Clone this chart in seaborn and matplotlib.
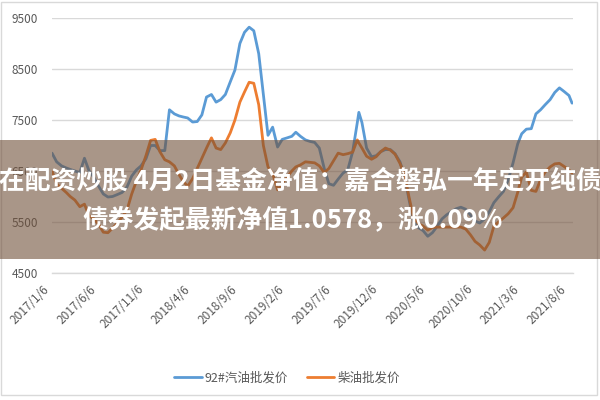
import numpy as np
import pandas as pd
import matplotlib
matplotlib.use("Agg")
import matplotlib.pyplot as plt
import seaborn as sns
from matplotlib.patches import Rectangle
from matplotlib.lines import Line2D

dates = [
    "2017-01-06", "2017-01-21", "2017-02-06", "2017-02-21", "2017-03-06", "2017-03-21",
    "2017-04-06", "2017-04-21", "2017-05-06", "2017-05-21", "2017-06-06", "2017-06-21",
    "2017-07-06", "2017-07-21", "2017-08-06", "2017-08-21", "2017-09-06", "2017-09-21",
    "2017-10-06", "2017-10-21", "2017-11-06", "2017-11-21", "2017-12-06", "2017-12-21",
    "2018-01-06", "2018-01-21", "2018-02-06", "2018-02-21", "2018-03-06", "2018-03-21",
    "2018-04-06", "2018-04-21", "2018-05-06", "2018-05-21", "2018-06-06", "2018-06-21",
    "2018-07-06", "2018-07-21", "2018-08-06", "2018-08-21", "2018-09-06", "2018-09-21",
    "2018-10-06", "2018-10-21", "2018-11-06", "2018-11-21", "2018-12-06", "2018-12-21",
    "2019-01-06", "2019-01-21", "2019-02-06", "2019-02-21", "2019-03-06", "2019-03-21",
    "2019-04-06", "2019-04-21", "2019-05-06", "2019-05-21", "2019-06-06", "2019-06-21",
    "2019-07-06", "2019-07-21", "2019-08-06", "2019-08-21", "2019-09-06", "2019-09-21",
    "2019-09-26", "2019-10-06", "2019-10-21", "2019-11-06", "2019-11-21", "2019-12-06",
    "2019-12-21", "2020-01-06", "2020-01-21", "2020-02-06", "2020-02-21", "2020-03-06",
    "2020-03-21", "2020-04-06", "2020-04-21", "2020-05-06", "2020-05-21", "2020-06-06",
    "2020-06-21", "2020-07-06", "2020-07-21", "2020-08-06", "2020-08-21", "2020-09-06",
    "2020-09-21", "2020-10-06", "2020-10-21", "2020-11-06", "2020-11-21", "2020-12-06",
    "2020-12-21", "2021-01-06", "2021-01-21", "2021-02-06", "2021-02-21", "2021-03-06",
    "2021-03-21", "2021-04-06", "2021-04-21", "2021-05-06", "2021-05-21", "2021-06-06",
    "2021-06-21", "2021-07-06", "2021-07-21", "2021-08-06", "2021-08-16",
]

gasoline_92 = [
    6850, 6680, 6600, 6560, 6530, 6500,
    6470, 6750, 6500, 6380, 6200, 6050,
    5990, 6000, 6040, 6080, 6190, 6400,
    6520, 6600, 6740, 7000, 7000, 6900,
    6900, 7700, 7620, 7580, 7560, 7540,
    7460, 7470, 7600, 7950, 8000, 7850,
    7900, 8000, 8250, 8480, 9000, 9220,
    9320, 9250, 8800, 8000, 7200, 7360,
    6970, 7120, 7150, 7180, 7260, 7180,
    7110, 7080, 7060, 6950, 6550, 6250,
    6220, 6340, 6460, 6520, 6880, 7450,
    7650, 7450, 6950, 6780, 6800, 6880,
    6920, 6920, 6840, 6680, 6400, 5950,
    5520, 5390, 5330, 5220, 5290, 5420,
    5560, 5640, 5700, 5760, 5790, 5750,
    5640, 5520, 5480, 5560, 5700, 5880,
    5990, 6100, 6320, 6660, 7030, 7230,
    7320, 7330, 7620, 7700, 7800, 7900,
    8040, 8130, 8060, 7980, 7830,
]

diesel = [
    6500, 6250, 6160, 6080, 6000, 5930,
    5800, 5850, 5620, 5570, 5450, 5300,
    5290, 5380, 5480, 5600, 5740, 6050,
    6300, 6520, 6800, 7100, 7120, 6880,
    6720, 6680, 6600, 6430, 6300, 6200,
    6350, 6550, 6750, 6950, 7150, 6950,
    6920, 7050, 7250, 7500, 7850, 8050,
    8240, 8220, 7800, 7000, 6580, 6450,
    6130, 6260, 6380, 6500, 6580, 6620,
    6680, 6670, 6660, 6600, 6470, 6550,
    6700, 6850, 6820, 6840, 6870, 7110,
    7050, 6950, 6790, 6730, 6780, 6880,
    6950, 6910, 6830, 6650, 6420, 6000,
    5580, 5470, 5420, 5340, 5390, 5400,
    5400, 5400, 5400, 5400, 5400, 5360,
    5250, 5120, 5050, 4950, 5100, 5420,
    5500, 5580, 5660, 5780, 6080, 6380,
    6480, 6120, 6100, 6330, 6480, 6580,
    6640, 6650, 6590, 6520, 6460,
]

series_names = ["92#汽油批发价", "柴油批发价"]
series_colors = ["#5b9bd5", "#ed7d31"]

tick_dates = ["2017-01-06", "2017-06-06", "2017-11-06", "2018-04-06", "2018-09-06",
              "2019-02-06", "2019-07-06", "2019-12-06", "2020-05-06", "2020-10-06",
              "2021-03-06", "2021-08-06"]
tick_labels = ["2017/1/6", "2017/6/6", "2017/11/6", "2018/4/6", "2018/9/6",
               "2019/2/6", "2019/7/6", "2019/12/6", "2020/5/6", "2020/10/6",
               "2021/3/6", "2021/8/6"]
y_ticks = [4500, 5500, 6500, 7500, 8500, 9500]

banner_lines = ["在配资炒股 4月2日基金净值：嘉合磐弘一年定开纯债",
                "债券发起最新净值1.0578，涨0.09%"]

sns.set_theme(style="white")
plt.rcParams['font.family'] = ['Noto Sans CJK SC', 'DejaVu Sans']

df = pd.DataFrame({
    "date": pd.to_datetime(dates * 2),
    "price": gasoline_92 + diesel,
    "series": [series_names[0]] * len(dates) + [series_names[1]] * len(dates),
})

fig = plt.figure(figsize=(6, 4), dpi=100)
fig.patch.set_facecolor("white")
ax = fig.add_axes([52 / 600, 1 - 273 / 400, (573 - 52) / 600, (273 - 18) / 400])

sns.lineplot(data=df, x="date", y="price", hue="series", hue_order=series_names,
             palette=series_colors, linewidth=2.0, ax=ax, legend=False)

ax.set_xlim(pd.Timestamp("2017-01-06"), pd.Timestamp("2017-01-06") + pd.Timedelta(days=1686))
ax.set_ylim(4500, 9500)
ax.set_yticks(y_ticks)
ax.set_yticklabels([str(v) for v in y_ticks])
ax.set_xticks(pd.to_datetime(tick_dates))
ax.set_xticklabels(tick_labels, rotation=45, ha="right", va="top", rotation_mode="default")
ax.set_xlabel("")
ax.set_ylabel("")

ax.grid(axis="y", color="#d9d9d9", linewidth=1.0)
ax.grid(axis="x", visible=False)
for s in ["top", "right", "left"]:
    ax.spines[s].set_visible(False)
ax.spines["bottom"].set_color("#d9d9d9")
ax.spines["bottom"].set_linewidth(1.0)
ax.tick_params(axis="x", colors="#595959", labelsize=8.5, length=5, color="#d9d9d9",
               direction="out", pad=2)
ax.tick_params(axis="y", colors="#595959", labelsize=8.5, length=0, pad=10)

handles = [Line2D([], [], color=c, linewidth=2.0) for c in series_colors]
leg = fig.legend(handles, series_names, loc="center", bbox_to_anchor=(287 / 600, 1 - 378 / 400),
                 ncol=2, frameon=False, fontsize=9, handlelength=2.2, handletextpad=0.25,
                 columnspacing=1.5)
for t in leg.get_texts():
    t.set_color("#595959")

# chart border
fig.patches.append(Rectangle((0.002, 1 - 395 / 400), 0.993, (395 - 2) / 400,
                             transform=fig.transFigure, fill=False,
                             edgecolor="#d9d9d9", linewidth=1.0, zorder=5))

# translucent banner with title text
fig.patches.append(Rectangle((0, 1 - 259 / 400), 1, 119 / 400, transform=fig.transFigure,
                             facecolor=(112 / 255, 80 / 255, 57 / 255), alpha=0.6,
                             edgecolor="none", zorder=10))
fig.text(300 / 600, 1 - 181 / 400, banner_lines[0], ha="center", va="center",
         color="white", fontsize=18.5, fontweight="bold", zorder=11)
fig.text(293 / 600, 1 - 220 / 400, banner_lines[1], ha="center", va="center",
         color="white", fontsize=18.5, fontweight="bold", zorder=11)

fig.savefig("out.png", dpi=100)
